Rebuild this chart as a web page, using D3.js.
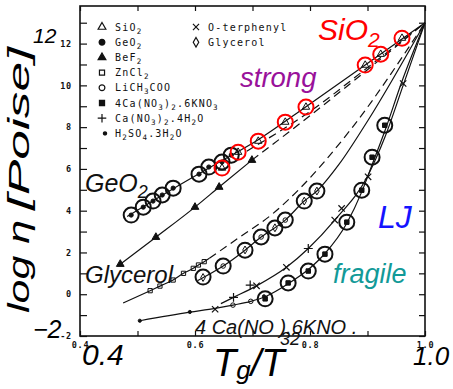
<!DOCTYPE html>
<html>
<head>
<meta charset="utf-8">
<script src="https://cdn.jsdelivr.net/npm/d3@7"></script>
<style>
  body { margin: 0; background: #fff; }
  svg { display: block; }
  .tick text { font-family: "DejaVu Sans Mono", monospace; font-weight: bold; font-size: 8.5px; letter-spacing: 0.8px; fill: #111; }
  .legend text { font-family: "DejaVu Sans Mono", monospace; font-size: 10px; letter-spacing: 1.2px; fill: #111; }
  .big { font-family: "Liberation Sans", Arial, sans-serif; font-style: italic; }
</style>
</head>
<body>
<svg id="chart" width="453" height="389"></svg>
<script>
// ---- data (Tg/T, log viscosity) ----
const strongLine   = [[0.482, 3.72], [0.562, 5.05], [0.647, 6.4], [0.71, 7.4], [0.793, 8.98], [0.896, 10.97], [1.0, 13.0]];
const bef2Line     = [[0.47, 1.44], [0.532, 2.73], [0.6, 4.17], [0.642, 5.13], [0.699, 6.42]];
const bef2Dash     = [[0.699, 6.42], [0.8, 8.55], [0.9, 10.75], [1.0, 13.0]];
const sio2Dash     = [[0.69, 6.85], [0.8, 8.75], [0.9, 10.85], [1.0, 13.0]];
const zncl2Line    = [[0.475, -0.42], [0.522, 0.17], [0.539, 0.39], [0.562, 0.68], [0.58, 1.0], [0.597, 1.24], [0.606, 1.4], [0.616, 1.56], [0.625, 1.72]];
const zncl2Dash    = [[0.625, 1.72], [0.678, 2.74], [0.735, 3.85], [0.783, 5.08], [0.87, 7.86], [1.0, 13.0]];
const glycerolLine = [[0.605, 0.66], [0.649, 1.35], [0.687, 2.11], [0.715, 2.74], [0.757, 3.55], [0.79, 4.46], [0.812, 4.94], [0.85, 6.2], [0.901, 8.33], [1.0, 13.0]];
const fragileLine  = [[0.504, -1.27], [0.591, -0.86], [0.635, -0.68], [0.666, -0.52], [0.697, -0.34], [0.722, -0.12], [0.762, 0.5], [0.797, 1.18], [0.826, 1.95], [0.864, 3.4], [0.89, 4.9], [0.908, 6.2], [0.93, 7.8], [0.96, 10.2], [1.0, 13.0]];
const caNitLine    = [[0.645, -0.45], [0.667, -0.15], [0.707, 0.4], [0.759, 1.29], [0.797, 2.19], [0.843, 3.55], [0.901, 5.7], [0.93, 7.5], [0.962, 10.0], [1.0, 13.0]];

const sio2Pts   = [[0.647, 6.04], [0.675, 6.8], [0.71, 7.33], [0.757, 8.24], [0.793, 8.96], [0.896, 10.97], [0.923, 11.49], [0.96, 12.26]];
const geo2Pts   = [[0.489, 3.79], [0.51, 4.17], [0.527, 4.46], [0.543, 4.75], [0.562, 5.08], [0.607, 5.75], [0.624, 6.09], [0.647, 6.33], [0.663, 6.66]];
const bef2Pts   = [[0.47, 1.44], [0.532, 2.73], [0.6, 4.17], [0.642, 5.13], [0.699, 6.42]];
const zncl2Pts  = [[0.522, 0.17], [0.539, 0.39], [0.562, 0.68], [0.58, 1.0], [0.597, 1.24], [0.606, 1.4], [0.616, 1.56]];
const licoPts   = [[0.649, 1.35], [0.715, 2.74], [0.757, 3.55], [0.666, -0.52], [0.697, -0.34]];
const glyPts    = [[0.614, 0.8], [0.687, 2.12], [0.739, 3.18], [0.79, 4.46], [0.812, 4.94]];
const ckNitPts  = [[0.722, -0.22], [0.762, 0.54], [0.797, 1.11], [0.826, 1.92], [0.864, 3.45], [0.89, 4.98], [0.908, 6.56], [0.93, 8.09]];
const caNitPts  = [[0.667, -0.15], [0.696, 0.44], [0.797, 2.19]];
const otpPts    = [[0.635, -0.72], [0.707, 0.4], [0.759, 1.29], [0.843, 3.55], [0.855, 4.11], [0.901, 5.62], [0.962, 10.09]];
const h2so4Pts  = [[0.504, -1.27], [0.591, -0.85], [0.72, -0.1]];

// simulation (LJ) circles
const ljStrong  = [[0.489, 3.79], [0.51, 4.17], [0.527, 4.46], [0.543, 4.75], [0.562, 5.08], [0.607, 5.75], [0.624, 6.09], [0.647, 6.33], [0.663, 6.66]];
const ljMiddle  = [[0.614, 0.82], [0.649, 1.35], [0.687, 2.11], [0.715, 2.74], [0.739, 3.17], [0.757, 3.55], [0.79, 4.46], [0.812, 4.94]];
const ljFragile = [[0.722, -0.22], [0.762, 0.54], [0.797, 1.11], [0.826, 1.92], [0.864, 3.45], [0.89, 4.98], [0.908, 6.56], [0.93, 8.09]];

const xTicks = [0.4, 0.5, 0.6, 0.7, 0.8, 0.9, 1.0];
const xLabels = [0.4, 0.6, 0.8, 1.0];
const yTicks = [-2, -1, 0, 1, 2, 3, 4, 5, 6, 7, 8, 9, 10, 11, 12, 13];

const legendCol1 = ['SiO2', 'GeO2', 'BeF2', 'ZnCl2', 'LiCH3COO', '4Ca(NO3)2.6KNO3', 'Ca(NO3)2.4H2O', 'H2SO4.3H2O'];
const legendCol2 = ['O-terphenyl', 'Glycerol'];

// ---- chart ----
const svg = d3.select('#chart');
svg.append('rect').attr('width', 453).attr('height', 389).attr('fill', '#fff');

const x = d3.scaleLinear().domain([0.4, 1.0]).range([80, 425]);
const y = d3.scaleLinear().domain([-2, 13.8]).range([336, 6]);

const line = d3.line().x(d => x(d[0])).y(d => y(d[1])).curve(d3.curveMonotoneX);

// chemical formula with subscripted digits
function chem(sel, str, subSize, shift) {
  const runs = [];
  for (let i = 0; i < str.length; i++) {
    const c = str[i], p = str[i - 1];
    const last = runs[runs.length - 1];
    const sub = /\d/.test(c) && i > 0 && (/[A-Za-z)]/.test(p) || (/\d/.test(p) && last && last.sub));
    if (last && last.sub === sub) last.t += c; else runs.push({ t: c, sub: sub });
  }
  runs.forEach((r, i) => {
    const ts = sel.append('tspan').text(r.t);
    if (r.sub) ts.attr('font-size', subSize).attr('dy', shift);
    else if (i > 0) ts.attr('dy', -shift);
  });
}

// axes (ticks inward)
const axL = svg.append('g').attr('transform', 'translate(80,0)')
  .call(d3.axisLeft(y).tickValues(yTicks).tickSize(-7).tickPadding(8).tickFormat(d => d % 2 === 0 ? d : ''));
const axR = svg.append('g').attr('transform', 'translate(425,0)')
  .call(d3.axisRight(y).tickValues(yTicks).tickSize(-6).tickFormat(''));
const axB = svg.append('g').attr('transform', 'translate(0,336)')
  .call(d3.axisBottom(x).tickValues(xTicks).tickSize(-5).tickPadding(6)
    .tickFormat(d => xLabels.some(v => Math.abs(v - d) < 1e-6) ? d3.format('.1f')(d) : ''));
const axT = svg.append('g').attr('transform', 'translate(0,6)')
  .call(d3.axisTop(x).tickValues(xTicks).tickSize(-5).tickFormat(''));
[axL, axR, axB, axT].forEach(a => {
  a.select('.domain').remove();
  a.selectAll('.tick line').attr('stroke', '#111').attr('stroke-width', 1.2);
});

svg.append('rect').attr('x', 80).attr('y', 6).attr('width', 345).attr('height', 330)
  .attr('fill', 'none').attr('stroke', '#111').attr('stroke-width', 1.6);

// curves
const curves = svg.append('g').attr('fill', 'none').attr('stroke', '#111').attr('stroke-width', 1.2);
[strongLine, bef2Line, zncl2Line, glycerolLine, fragileLine, caNitLine].forEach(c =>
  curves.append('path').attr('d', line(c)));
[sio2Dash, bef2Dash, zncl2Dash].forEach(c =>
  curves.append('path').attr('d', line(c)).attr('stroke-dasharray', '8,5'));

// experimental symbols
function sym(data, type, size, fill, sw) {
  svg.append('g').selectAll('path').data(data).join('path')
    .attr('transform', d => `translate(${x(d[0])},${y(d[1])})`)
    .attr('d', d3.symbol().type(type).size(size))
    .attr('fill', fill ? '#111' : 'none').attr('stroke', '#111').attr('stroke-width', sw || 1);
}
sym(sio2Pts, d3.symbolTriangle, 24, false);
sym(geo2Pts, d3.symbolCircle, 14, true);
sym(bef2Pts, d3.symbolTriangle, 26, true);
sym(zncl2Pts, d3.symbolSquare, 18, false);
sym(licoPts, d3.symbolCircle, 16, false);
sym(glyPts, d3.symbolDiamond, 18, false);
sym(ckNitPts, d3.symbolSquare, 20, true);
sym(caNitPts, d3.symbolPlus, 28, false, 1.2);
sym(otpPts, d3.symbolTimes, 28, false, 1.2);
sym(h2so4Pts, d3.symbolCircle, 8, true);

// simulation circles
function rings(data, color) {
  svg.append('g').selectAll('circle').data(data).join('circle')
    .attr('cx', d => x(d[0])).attr('cy', d => y(d[1])).attr('r', 7.5)
    .attr('fill', 'none').attr('stroke', color).attr('stroke-width', 2);
}
rings(ljStrong, '#111');
rings(ljMiddle, '#111');
rings(ljFragile, '#111');
rings(sio2Pts, '#ff0000');

// legend
const legendTypes1 = [[d3.symbolTriangle, false], [d3.symbolCircle, true], [d3.symbolTriangle, true], [d3.symbolSquare, false],
  [d3.symbolCircle, false], [d3.symbolSquare, true], [d3.symbolPlus, false], [d3.symbolCircle, true]];
const legendTypes2 = [[d3.symbolTimes, false], [d3.symbolDiamond, false]];
const lg = svg.append('g').attr('class', 'legend');
function legendCol(labels, types, mx, tx) {
  labels.forEach((lab, i) => {
    const cy = 27 + i * 15.2;
    const t = types[i];
    const small = i === 7 && mx < 150;
    lg.append('path').attr('transform', `translate(${mx + (small ? 3 : 0)},${cy})`)
      .attr('d', d3.symbol().type(t[0]).size(small ? 8 : 26))
      .attr('fill', t[1] ? '#111' : 'none').attr('stroke', '#111').attr('stroke-width', 1.2);
    chem(lg.append('text').attr('x', tx).attr('y', cy + 3.5), lab, 7.5, 3);
  });
}
legendCol(legendCol1, legendTypes1, 102, 115);
legendCol(legendCol2, legendTypes2, 196, 208);

// overlay annotations
const ann = svg.append('g').attr('class', 'big');
ann.append('text').attr('x', 33).attr('y', 43).attr('font-size', 21).text('12');
ann.append('text').attr('x', 33).attr('y', 338).attr('font-size', 25).text('\u22122');
ann.append('text').attr('x', 82).attr('y', 365).attr('font-size', 30).text('0.4');
ann.append('text').attr('x', 413).attr('y', 365).attr('font-size', 26).text('1.0');
const tg = ann.append('text').attr('x', 213).attr('y', 376).attr('font-size', 38);
tg.append('tspan').text('T');
tg.append('tspan').attr('font-size', 26).attr('dy', 3).text('g');
tg.append('tspan').attr('dy', -3).text('/T');

ann.append('text').attr('transform', 'translate(29,313) rotate(-90)').attr('font-size', 30)
  .attr('textLength', 93).attr('lengthAdjust', 'spacingAndGlyphs').text('log \u03b7');
ann.append('text').attr('transform', 'translate(29,210) rotate(-90)').attr('font-size', 30)
  .attr('textLength', 163).attr('lengthAdjust', 'spacingAndGlyphs').text('[Poise]');

chem(ann.append('text').attr('x', 318).attr('y', 40).attr('font-size', 30).attr('fill', '#ff0000'), 'SiO2', 21, 7);
ann.append('text').attr('x', 240).attr('y', 87).attr('font-size', 27.5).attr('fill', '#99119a').text('strong');
chem(ann.append('text').attr('x', 85).attr('y', 192).attr('font-size', 25).attr('fill', '#111'), 'GeO2', 18, 6);
ann.append('text').attr('x', 378).attr('y', 228).attr('font-size', 32).attr('fill', '#1414ff').text('LJ');
ann.append('text').attr('x', 85).attr('y', 283).attr('font-size', 24).attr('fill', '#111').text('Glycerol');
ann.append('text').attr('x', 333).attr('y', 283).attr('font-size', 27).attr('fill', '#129a98').text('fragile');
ann.append('text').attr('x', 195).attr('y', 334).attr('font-size', 20).attr('fill', '#111').text('4 Ca(NO ).6KNO .');
ann.append('text').attr('x', 280).attr('y', 345).attr('font-size', 18).attr('fill', '#111').text('32');
</script>
</body>
</html>
